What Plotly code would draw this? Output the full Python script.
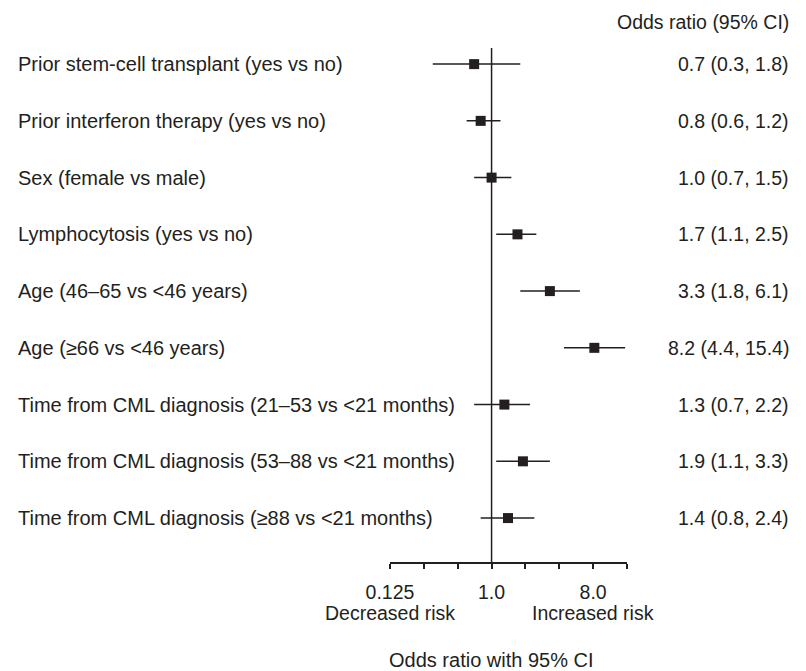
import math
import plotly.graph_objects as go

# ---- data ----
labels = [
    "Prior stem-cell transplant (yes vs no)",
    "Prior interferon therapy (yes vs no)",
    "Sex (female vs male)",
    "Lymphocytosis (yes vs no)",
    "Age (46\u201365 vs <46 years)",
    "Age (\u226566 vs <46 years)",
    "Time from CML diagnosis (21\u201353 vs <21 months)",
    "Time from CML diagnosis (53\u201388 vs <21 months)",
    "Time from CML diagnosis (\u226588 vs <21 months)",
]
odds_ratio = [0.7, 0.8, 1.0, 1.7, 3.3, 8.2, 1.3, 1.9, 1.4]
ci_low = [0.3, 0.6, 0.7, 1.1, 1.8, 4.4, 0.7, 1.1, 0.8]
ci_high = [1.8, 1.2, 1.5, 2.5, 6.1, 15.4, 2.2, 3.3, 2.4]

tick_vals = [0.125, 0.25, 0.5, 1, 2, 4, 8, 16]
tick_text = ["0.125", "", "", "1.0", "", "", "8.0", ""]
risk_labels = {0.125: "Decreased risk", 8: "Increased risk"}

# ---- style ----
INK = "#231f20"
FONT = "Liberation Sans, Arial, Helvetica, sans-serif"
FS = 20
FSV = 19.5
W, H = 806, 671

fig = go.Figure()
fig.add_trace(go.Scatter(
    x=odds_ratio,
    y=labels,
    mode="markers",
    marker=dict(symbol="square", size=10, color=INK),
    error_x=dict(
        type="data", symmetric=False,
        array=[h - o for h, o in zip(ci_high, odds_ratio)],
        arrayminus=[o - l for o, l in zip(odds_ratio, ci_low)],
        color=INK, thickness=1.5, width=0,
    ),
    showlegend=False,
    hoverinfo="skip",
))

# reference line at OR = 1
fig.add_shape(type="line", xref="x", yref="y domain", x0=1, x1=1, y0=0, y1=1,
              line=dict(color=INK, width=1.5), layer="below")

annotations = []
for lab, o, l, h in zip(labels, odds_ratio, ci_low, ci_high):
    annotations.append(dict(text=lab, xref="paper", yref="y", x=16 / W, y=lab,
                            xanchor="left", yanchor="middle", showarrow=False,
                            font=dict(size=FS, color=INK, family=FONT)))
    annotations.append(dict(text=f"{o:.1f} ({l:.1f}, {h:.1f})", xref="paper", yref="y",
                            x=791 / W, y=lab, xanchor="right", yanchor="middle",
                            showarrow=False, font=dict(size=FSV, color=INK, family=FONT)))
for xv, txt in risk_labels.items():
    annotations.append(dict(text=txt, xref="x", yref="paper", x=math.log10(xv),
                            y=1 - 613 / H, xanchor="center", yanchor="middle",
                            showarrow=False, font=dict(size=FSV, color=INK, family=FONT)))
annotations.append(dict(text="Odds ratio (95% CI)", xref="paper", yref="paper",
                        x=791 / W, y=1 - 22 / H, xanchor="right", yanchor="middle",
                        showarrow=False, font=dict(size=FSV, color=INK, family=FONT)))
annotations.append(dict(text="Odds ratio with 95% CI", xref="paper", yref="paper",
                        x=491 / W, y=1 - 660 / H, xanchor="center", yanchor="middle",
                        showarrow=False, font=dict(size=FS, color=INK, family=FONT)))

fig.update_layout(
    width=W, height=H,
    margin=dict(l=0, r=0, t=0, b=0, autoexpand=False),
    paper_bgcolor="white", plot_bgcolor="white",
    font=dict(family=FONT, size=FS, color=INK),
    annotations=annotations,
    xaxis=dict(
        type="log",
        domain=[390 / W, 627 / W],
        range=[math.log10(0.125), math.log10(16)],
        tickmode="array", tickvals=tick_vals, ticktext=tick_text,
        ticks="outside", ticklen=5, tickwidth=1.5, tickcolor=INK,
        showline=True, linecolor=INK, linewidth=1.5,
        showgrid=False, zeroline=False,
        ticklabelstandoff=7,
        tickfont=dict(size=FSV, color=INK, family=FONT),
        automargin=False, fixedrange=True,
    ),
    yaxis=dict(
        type="category",
        categoryorder="array", categoryarray=labels,
        domain=[1 - 562 / H, 1 - 48 / H],
        range=[8.774, -0.284],
        showticklabels=False, showline=False, showgrid=False, zeroline=False,
        ticks="", automargin=False, fixedrange=True,
    ),
)

fig.write_html("out.html")
